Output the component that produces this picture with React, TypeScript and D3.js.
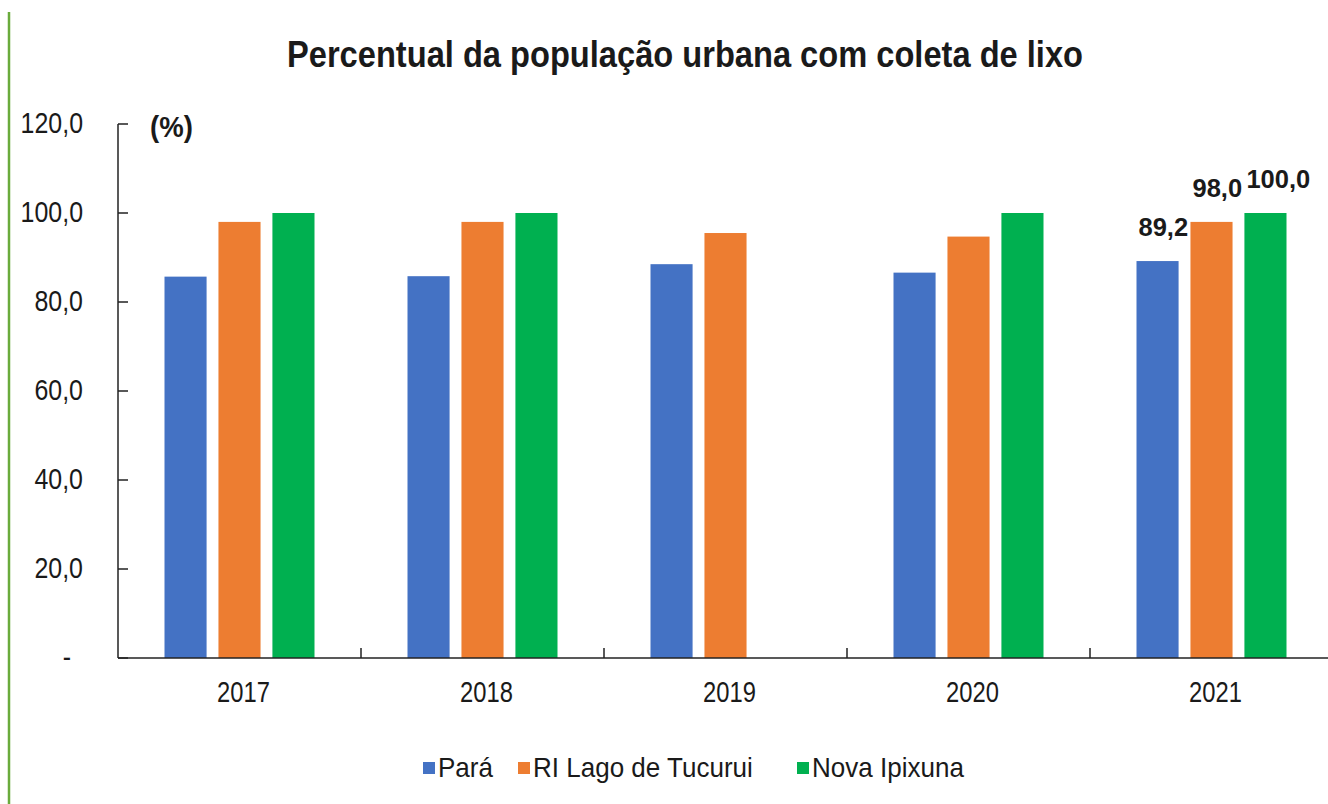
import React, { useEffect, useRef } from "react";
import * as d3 from "d3";

const years = ["2017", "2018", "2019", "2020", "2021"];
const seriesNames = ["Pará", "RI Lago de Tucurui", "Nova Ipixuna"];
const seriesColors = ["#4472C4", "#ED7D31", "#00B050"];
const para = [85.7, 85.8, 88.5, 86.6, 89.2];
const tucurui = [98.0, 98.0, 95.5, 94.7, 98.0];
const novaIpixuna: (number | null)[] = [100.0, 100.0, null, 100.0, 100.0];
const yTicks = [0, 20, 40, 60, 80, 100, 120];
const labelYear = "2021";

const W = 1328;
const H = 804;
const FONT = "'Liberation Sans', Arial, sans-serif";

type Opts = { size: number; bold?: boolean; sx?: number; anchor?: string; fill?: string; textLength?: number };

export default function App() {
  const ref = useRef<SVGSVGElement>(null);

  useEffect(() => {
    const svg = d3.select(ref.current);
    svg.selectAll("*").remove();

    const addText = (x: number, y: number, s: string, o: Opts) => {
      const g = svg.append("g").attr("transform", `translate(${x},${y}) scale(${o.sx ?? 1},1)`);
      const t = g
        .append("text")
        .attr("x", 0)
        .attr("y", 0)
        .attr("text-anchor", o.anchor ?? "start")
        .attr("font-family", FONT)
        .attr("font-weight", o.bold ? "bold" : "normal")
        .attr("font-size", o.size)
        .attr("fill", o.fill ?? "#1a1a1a")
        .text(s);
      if (o.textLength) t.attr("textLength", o.textLength).attr("lengthAdjust", "spacingAndGlyphs");
      return t;
    };

    const left = 118;
    const top = 124;
    const bottom = 658;

    const y = d3.scaleLinear().domain([0, 120]).range([bottom, top]);
    const x0 = d3.scaleBand<string>().domain(years).range([left, left + 243 * 5]).padding(0);
    const x1 = d3
      .scaleBand<string>()
      .domain(seriesNames)
      .range([-75, 75])
      .paddingInner(0.22)
      .paddingOuter(0);

    const data = [para, tucurui, novaIpixuna];

    svg.append("rect").attr("width", W).attr("height", H).attr("fill", "#ffffff");

    // left green border
    svg
      .append("line")
      .attr("x1", 9)
      .attr("x2", 9)
      .attr("y1", 12)
      .attr("y2", H)
      .attr("stroke", "#6aab3c")
      .attr("stroke-width", 2.5);

    // title
    addText(685, 67, "Percentual da população urbana com coleta de lixo", {
      size: 37,
      bold: true,
      anchor: "middle",
      textLength: 796,
    });

    // bars
    data.forEach((vals, si) => {
      const name = seriesNames[si];
      svg
        .append("g")
        .selectAll("rect")
        .data(years.map((yr, i) => ({ yr, v: vals[i] })).filter((d) => d.v != null))
        .join("rect")
        .attr("x", (d) => x0(d.yr)! + x0.bandwidth() / 2 + x1(name)!)
        .attr("width", x1.bandwidth())
        .attr("y", (d) => y(d.v as number))
        .attr("height", (d) => bottom - y(d.v as number))
        .attr("fill", seriesColors[si]);

      const idx = years.indexOf(labelYear);
      const v = vals[idx];
      if (v != null) {
        addText(
          x0(labelYear)! + x0.bandwidth() / 2 + x1(name)! + 2,
          y(v) - 25,
          d3.format(".1f")(v).replace(".", ","),
          { size: 25.5, bold: true }
        );
      }
    });

    // y axis
    svg
      .append("line")
      .attr("x1", left)
      .attr("x2", left)
      .attr("y1", top)
      .attr("y2", bottom)
      .attr("stroke", "#222")
      .attr("stroke-width", 1.5);
    yTicks.forEach((t) => {
      svg
        .append("line")
        .attr("x1", left)
        .attr("x2", left + 10)
        .attr("y1", y(t))
        .attr("y2", y(t))
        .attr("stroke", "#222")
        .attr("stroke-width", 1.5);
      addText(t === 0 ? 71 : 83, y(t) + 9, t === 0 ? "-" : d3.format(".1f")(t).replace(".", ","), {
        size: 29,
        sx: 0.86,
        anchor: "end",
      });
    });

    addText(150, 137, "(%)", { size: 29, bold: true, sx: 0.95 });

    // x axis
    svg
      .append("line")
      .attr("x1", left)
      .attr("x2", W)
      .attr("y1", bottom)
      .attr("y2", bottom)
      .attr("stroke", "#222")
      .attr("stroke-width", 1.5);
    years.slice(1).forEach((yr) => {
      svg
        .append("line")
        .attr("x1", x0(yr)!)
        .attr("x2", x0(yr)!)
        .attr("y1", bottom)
        .attr("y2", bottom - 10)
        .attr("stroke", "#222")
        .attr("stroke-width", 1.5);
    });
    years.forEach((yr) => {
      addText(x0(yr)! + x0.bandwidth() / 2 + 4, 702, yr, { size: 29, sx: 0.82, anchor: "middle" });
    });

    // legend
    const legendX = [423, 518, 797];
    seriesNames.forEach((name, i) => {
      svg
        .append("rect")
        .attr("x", legendX[i])
        .attr("y", 762)
        .attr("width", 12)
        .attr("height", 12)
        .attr("fill", seriesColors[i]);
      addText(legendX[i] + 15, 777, name, { size: 28, sx: 0.93 });
    });
  }, []);

  return (
    <svg
      ref={ref}
      width={W}
      height={H}
      style={{ position: "absolute", left: 0, top: 0, display: "block" }}
    />
  );
}
